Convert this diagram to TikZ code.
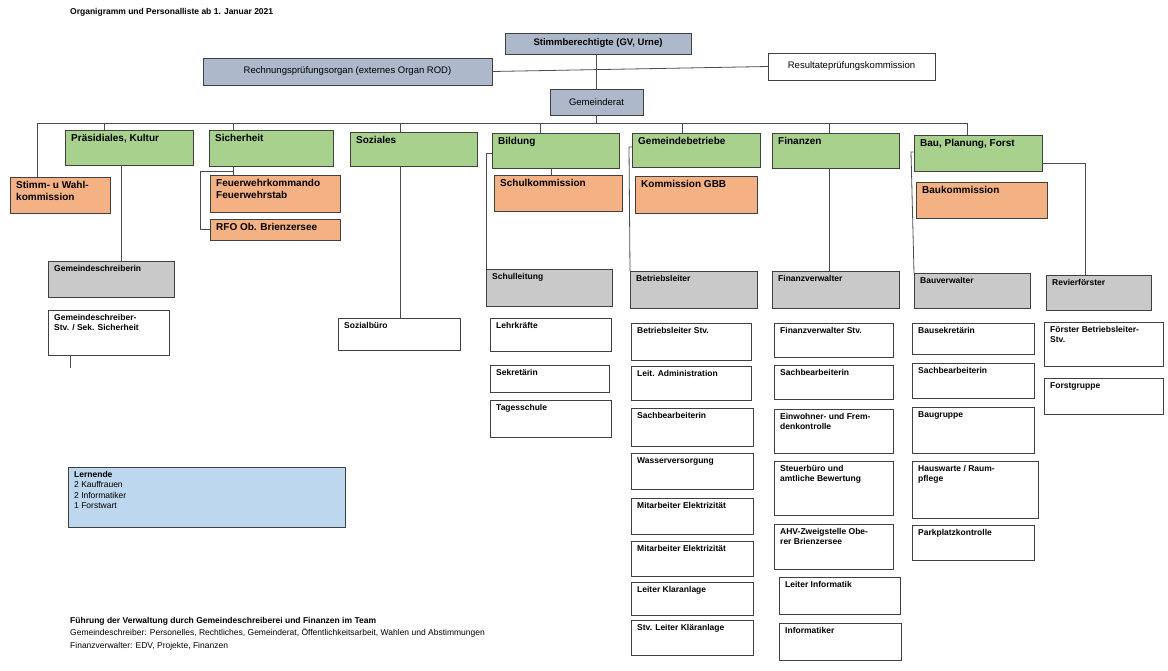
\documentclass[tikz,border=0pt]{standalone}
\usepackage{fontspec}
\setmainfont{Liberation Sans}
\definecolor{gb}{HTML}{ADB9CA}
\definecolor{gr}{HTML}{A9D18E}
\definecolor{og}{HTML}{F4B183}
\definecolor{gy}{HTML}{C9C9C9}
\definecolor{lb}{HTML}{BDD7EE}
\newcommand{\obox}[8]{%
  \node[box,#6,minimum width={(#4-#2)*1pt},minimum height={(#5-#3)*1pt},anchor=north west] (#1) at (#2,#3) {};
  \node[txt,#7,anchor=north west] at ([xshift=6pt,yshift=-4pt]#1.north west) {#8};}
\begin{document}
\begin{tikzpicture}[x=1pt,y=-1pt,
  box/.style={draw=black!75,line width=0.8pt,inner sep=0pt,outer sep=0pt},
  txt/.style={inner sep=0pt,align=left},
  big/.style={font=\fontsize{10}{12}\selectfont\bfseries},
  sm/.style={font=\fontsize{8.5}{10.5}\selectfont\bfseries},
  nm/.style={font=\fontsize{8.5}{10.5}\selectfont},
  ln/.style={draw=black!70,line width=0.8pt}]
\useasboundingbox (0,0) rectangle (1168,670);
\node[anchor=north west,inner sep=0pt,font=\fontsize{8.5}{10}\selectfont\bfseries] (title) at (70,8) {Organigramm und Personalliste ab 1. Januar 2021};
% top
\node[box,fill=gb,minimum width=186pt,minimum height=21pt,anchor=north west,font=\fontsize{9.5}{11}\selectfont\bfseries] (stimm) at (505,33) {Stimmberechtigte (GV, Urne)};
\node[box,fill=gb,minimum width=289pt,minimum height=27pt,anchor=north west,font=\fontsize{9.5}{11}\selectfont] (rech) at (203,58) {Rechnungsprüfungsorgan (externes Organ ROD)};
\node[box,fill=white,minimum width=167pt,minimum height=27pt,anchor=north west,font=\fontsize{9.5}{11}\selectfont] (res) at (768,53) {Resultateprüfungskommission};
\node[box,fill=gb,minimum width=93pt,minimum height=26pt,anchor=north west,font=\fontsize{9.5}{11}\selectfont] (gr) at (550,89) {Gemeinderat};
% green
\obox{prae}{65}{130}{193}{165}{fill=gr}{big}{Präsidiales, Kultur}
\obox{sich}{209}{130}{333}{166}{fill=gr}{big}{Sicherheit}
\obox{soz}{350}{132}{477}{166}{fill=gr}{big}{Soziales}
\obox{bild}{492}{133}{619}{168}{fill=gr}{big}{Bildung}
\obox{gbe}{632}{133}{760}{167}{fill=gr}{big}{Gemeindebetriebe}
\obox{fin}{772}{133}{899}{168}{fill=gr}{big}{Finanzen}
\obox{bau}{914}{135}{1042}{171}{fill=gr}{big}{Bau, Planung, Forst}
% orange
\obox{wahl}{10}{177}{110}{213}{fill=og}{big}{Stimm- u Wahl-\\kommission}
\obox{feu}{210}{175}{340}{212}{fill=og}{big}{Feuerwehrkommando\\Feuerwehrstab}
\obox{rfo}{210}{219}{340}{240}{fill=og}{big}{RFO Ob. Brienzersee}
\obox{schk}{494}{175}{622}{211}{fill=og}{big}{Schulkommission}
\obox{kgbb}{635}{176}{757}{213}{fill=og}{big}{Kommission GBB}
\obox{bauk}{916}{182}{1047}{218}{fill=og}{big}{Baukommission}
% grey
\obox{gsch}{48}{261}{174}{297}{fill=gy}{sm}{Gemeindeschreiberin}
\obox{schl}{486}{269}{612}{306}{fill=gy}{sm}{Schulleitung}
\obox{betr}{630}{271}{757}{308}{fill=gy}{sm}{Betriebsleiter}
\obox{finv}{772}{271}{899}{308}{fill=gy}{sm}{Finanzverwalter}
\obox{bauv}{914}{273}{1030}{308}{fill=gy}{sm}{Bauverwalter}
\obox{rev}{1046}{275}{1151}{310}{fill=gy}{sm}{Revierförster}
% white
\obox{gstv}{48}{310}{169}{355}{fill=white}{sm}{Gemeindeschreiber-\\Stv. / Sek. Sicherheit}
\obox{sozb}{338}{318}{460}{350}{fill=white}{sm}{Sozialbüro}
\obox{lehr}{490}{318}{611}{351}{fill=white}{sm}{Lehrkräfte}
\obox{sekr}{490}{365}{609}{392}{fill=white}{sm}{Sekretärin}
\obox{tags}{490}{400}{611}{437}{fill=white}{sm}{Tagesschule}
\obox{b1}{631}{323}{751}{360}{fill=white}{sm}{Betriebsleiter Stv.}
\obox{b2}{631}{366}{751}{400}{fill=white}{sm}{Leit. Administration}
\obox{b3}{631}{408}{753}{446}{fill=white}{sm}{Sachbearbeiterin}
\obox{b4}{631}{453}{753}{489}{fill=white}{sm}{Wasserversorgung}
\obox{b5}{631}{498}{753}{534}{fill=white}{sm}{Mitarbeiter Elektrizität}
\obox{b6}{631}{541}{753}{576}{fill=white}{sm}{Mitarbeiter Elektrizität}
\obox{b7}{631}{582}{753}{615}{fill=white}{sm}{Leiter Klaranlage}
\obox{b8}{631}{620}{753}{655}{fill=white}{sm}{Stv. Leiter Kläranlage}
\obox{f1}{774}{323}{893}{357}{fill=white}{sm}{Finanzverwalter Stv.}
\obox{f2}{774}{365}{893}{399}{fill=white}{sm}{Sachbearbeiterin}
\obox{f3}{774}{409}{893}{453}{fill=white}{sm}{Einwohner- und Frem-\\denkontrolle}
\obox{f4}{774}{461}{893}{515}{fill=white}{sm}{Steuerbüro und\\amtliche Bewertung}
\obox{f5}{774}{524}{893}{569}{fill=white}{sm}{AHV-Zweigstelle Obe-\\rer Brienzersee}
\obox{f6}{779}{577}{900}{614}{fill=white}{sm}{Leiter Informatik}
\obox{f7}{779}{623}{901}{660}{fill=white}{sm}{Informatiker}
\obox{a1}{912}{323}{1034}{354}{fill=white}{sm}{Bausekretärin}
\obox{a2}{912}{363}{1034}{398}{fill=white}{sm}{Sachbearbeiterin}
\obox{a3}{912}{407}{1034}{453}{fill=white}{sm}{Baugruppe}
\obox{a4}{912}{461}{1038}{518}{fill=white}{sm}{Hauswarte / Raum-\\pflege}
\obox{a5}{912}{525}{1034}{560}{fill=white}{sm}{Parkplatzkontrolle}
\obox{r1}{1044}{322}{1163}{366}{fill=white}{sm}{Förster Betriebsleiter-\\Stv.}
\obox{r2}{1044}{378}{1163}{414}{fill=white}{sm}{Forstgruppe}
\obox{lern}{68}{467}{345}{527}{fill=lb}{nm}{\textbf{Lernende}\\2 Kauffrauen\\2 Informatiker\\1 Forstwart}
% footer
\node[anchor=north west,inner sep=0pt,align=left,font=\fontsize{8.5}{12.5}\selectfont] (foot) at (70,617) {\textbf{Führung der Verwaltung durch Gemeindeschreiberei und Finanzen im Team}\\Gemeindeschreiber: Personelles, Rechtliches, Gemeinderat, Öffentlichkeitsarbeit, Wahlen und Abstimmungen\\Finanzverwalter: EDV, Projekte, Finanzen};
% connectors
\coordinate (busL) at (37,123); \coordinate (busR) at (967,123);
\draw[ln] (stimm.south -| gr.north) -- (gr.north);
\draw[ln] (rech.east) -- (res.west);
\draw[ln] (gr.south) -- (gr.south |- busL);
\draw[ln] (busL) -- (busR);
\draw[ln] (busL) -- (busL |- wahl.north);
\foreach \n/\x in {prae/104,sich/233,soz/400,bild/540,gbe/682,fin/829,bau/967}
  \draw[ln] (\x,123) -- (\x,0 |- \n.north);
\draw[ln] (121,0 |- prae.south) -- (121,0 |- gsch.north);
\draw[ln] (233,0 |- sich.south) -- (233,0 |- feu.north);
\draw[ln] (233,171) -- (200,171) -- (200,0 |- rfo.west) -- (rfo.west);
\draw[ln] (400,0 |- soz.south) -- (400,0 |- sozb.north);
\draw[ln] (551,0 |- bild.south) -- (551,0 |- schk.north);
\draw[ln] (bild.west |- 0,153) -- (486,153) -- (schl.north west);
\draw[ln] (gbe.west |- 0,147) -- (629,147) -- (betr.north west);
\draw[ln] (829,0 |- fin.south) -- (829,0 |- finv.north);
\draw[ln] (bau.west |- 0,152) -- (911,152) -- (bauv.north west);
\draw[ln] (bau.east |- 0,163) -- (1085,163) -- (1085,0 |- rev.north);
\coordinate (gend) at (70,368);
\draw[ln] (70,0 |- gstv.south) -- (gend);
\end{tikzpicture}
\end{document}
